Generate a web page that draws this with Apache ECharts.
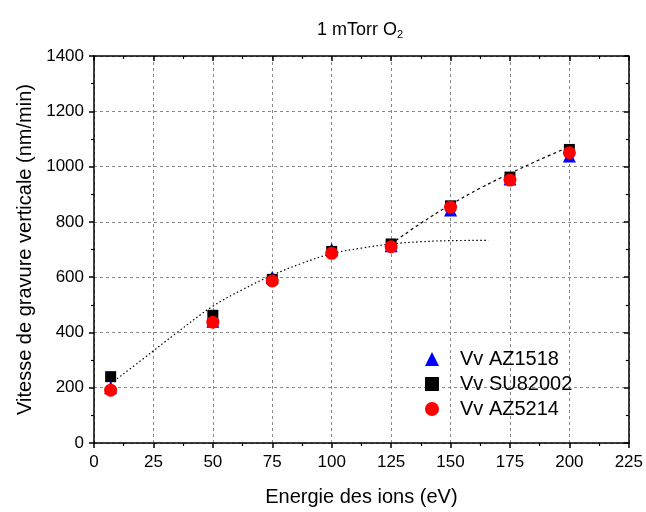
<!DOCTYPE html>
<html>
<head>
<meta charset="utf-8">
<script src="https://cdn.jsdelivr.net/npm/echarts@6/dist/echarts.min.js"></script>
<style>
html,body{margin:0;padding:0;background:#fff;}
#chart{width:646px;height:512px;}
</style>
</head>
<body>
<div id="chart"></div>
<script>
// Data
var energy = [7, 50, 75, 100, 125, 150, 175, 200];
var vvAZ1518 = [200, 440, 600, 700, 714, 843, 955, 1038];
var vvSU82002 = [240, 462, 592, 693, 720, 858, 962, 1062];
var vvAZ5214 = [191, 437, 586, 686, 710, 853, 951, 1050];
var seriesNames = ['Vv AZ1518', 'Vv SU82002', 'Vv AZ5214'];

var fitLowX = [7, 20, 35, 50, 62.5, 75, 87.5, 100, 112.5, 125, 137.5, 150, 166];
var fitLowY = [215, 300, 400, 495, 555, 607, 650, 685, 705, 720, 728, 732, 733];
var fitHighX = [125, 137.5, 150, 162.5, 175, 187.5, 201];
var fitHighY = [720, 795, 862, 922, 975, 1025, 1075];

var xTicks = {min: 0, max: 225, interval: 25};
var yTicks = {min: 0, max: 1400, interval: 200};

function pairs(xs, ys) { return xs.map(function (x, i) { return [x, ys[i]]; }); }
function plain(v) { return String(v); }

var FONT = '"Liberation Sans", Arial, sans-serif';
var chart = echarts.init(document.getElementById('chart'), null, {renderer: 'canvas'});

function baseAxis(t, extra) {
  var a = {
    type: 'value', min: t.min, max: t.max, interval: t.interval,
    axisLine: {show: true, onZero: false, lineStyle: {color: '#000', width: 1.5}},
    axisTick: {show: true, length: 5, lineStyle: {color: '#000', width: 1.5}},
    minorTick: {show: true, splitNumber: 2, length: 3, lineStyle: {color: '#000', width: 1.2}},
    splitLine: {show: false},
    axisLabel: {show: false}
  };
  for (var k in extra) a[k] = extra[k];
  return a;
}

var option = {
  animation: false,
  backgroundColor: '#fff',
  textStyle: {fontFamily: FONT},
  graphic: [{
    type: 'text', left: 317, top: 21,
    style: {
      text: '{m|1 mTorr O}{s|2}',
      rich: {
        m: {fontFamily: FONT, fontSize: 18, fill: '#000'},
        s: {fontFamily: FONT, fontSize: 11, fill: '#000', padding: [10, 0, 0, 0]}
      }
    }
  }],
  grid: {left: 94, right: 15, top: 56, bottom: 63.5, containLabel: false},
  legend: {
    orient: 'vertical', left: 420, top: 344,
    itemWidth: 14, itemHeight: 14, itemGap: 5,
    data: seriesNames,
    textStyle: {fontFamily: FONT, fontSize: 20, color: '#000', padding: [0, 0, 0, 16]}
  },
  xAxis: [
    baseAxis(xTicks, {
      position: 'bottom',
      name: 'Energie des ions (eV)', nameLocation: 'middle', nameGap: 44,
      nameTextStyle: {fontFamily: FONT, fontSize: 20, color: '#000'},
      axisLabel: {show: true, margin: 11, fontFamily: FONT, fontSize: 17, color: '#000', formatter: plain},
      splitLine: {show: true, lineStyle: {color: '#8a8a8a', type: [3, 3], width: 1}}
    }),
    baseAxis(xTicks, {position: 'top', axisTick: {show: true, inside: true, length: 5, lineStyle: {color: '#000', width: 1.5}}})
  ],
  yAxis: [
    baseAxis(yTicks, {
      position: 'left',
      name: 'Vitesse de gravure verticale (nm/min)', nameLocation: 'middle', nameGap: 58,
      nameTextStyle: {fontFamily: FONT, fontSize: 20, color: '#000'},
      axisLabel: {show: true, margin: 10, fontFamily: FONT, fontSize: 17, color: '#000', formatter: plain},
      splitLine: {show: true, lineStyle: {color: '#8a8a8a', type: [3, 3], width: 1}}
    }),
    baseAxis(yTicks, {position: 'right', axisTick: {show: true, inside: true, length: 5, lineStyle: {color: '#000', width: 1.5}}})
  ],
  series: [
    {
      name: 'fitLow', type: 'line', silent: true, smooth: 0.4, showSymbol: false, symbol: 'none',
      data: pairs(fitLowX, fitLowY), z: 1,
      lineStyle: {color: '#000', width: 1.2, type: [1.5, 2.5]}
    },
    {
      name: 'fitHigh', type: 'line', silent: true, smooth: 0.4, showSymbol: false, symbol: 'none',
      data: pairs(fitHighX, fitHighY), z: 1,
      lineStyle: {color: '#000', width: 1.2, type: [3, 3]}
    },
    {
      name: seriesNames[0], type: 'scatter', symbol: 'triangle', symbolSize: 13,
      itemStyle: {color: '#0000ff', opacity: 1}, data: pairs(energy, vvAZ1518), z: 2
    },
    {
      name: seriesNames[1], type: 'scatter', symbol: 'rect', symbolSize: 11,
      itemStyle: {color: '#000000', opacity: 1}, data: pairs(energy, vvSU82002), z: 3
    },
    {
      name: seriesNames[2], type: 'scatter', symbol: 'circle', symbolSize: 13,
      itemStyle: {color: '#ff0000', opacity: 1}, data: pairs(energy, vvAZ5214), z: 4
    }
  ]
};
chart.setOption(option);
</script>
</body>
</html>
